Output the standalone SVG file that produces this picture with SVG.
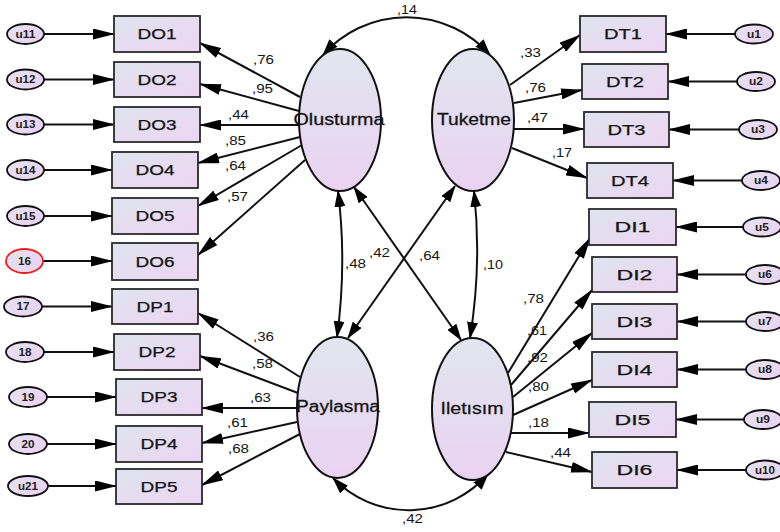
<svg xmlns="http://www.w3.org/2000/svg" width="780" height="532" viewBox="0 0 780 532">
<defs>
<style>
.box{fill:url(#gbox);stroke:#2a2a2a;stroke-width:1.8}
.lat{fill:url(#gell);stroke:#111;stroke-width:2}
.err{fill:url(#gu);stroke:#111;stroke-width:1.8}
.t{font-family:"Liberation Sans",Arial,sans-serif;fill:#151515}
.bl{font-size:14px;text-anchor:middle;stroke:#151515;stroke-width:0.25}
.ll{font-size:16px;text-anchor:middle;stroke:#151515;stroke-width:0.3}
.ul{font-size:10px;text-anchor:middle;font-weight:bold;fill:#222}
.cl{font-size:12px}
.c line,.c path{stroke:#111;stroke-width:2;fill:none}
.a{marker-end:url(#ah)}
.b{marker-start:url(#ah2);marker-end:url(#ah2)}
</style>
<linearGradient id="gbox" x1="0" y1="0" x2="1" y2="1"><stop offset="0" stop-color="#dfe4ee"/><stop offset="1" stop-color="#edd5f3"/></linearGradient>
<linearGradient id="gell" x1="0" y1="0" x2="0" y2="1"><stop offset="0" stop-color="#e1e6ee"/><stop offset="1" stop-color="#ead2f2"/></linearGradient>
<linearGradient id="gu" x1="0" y1="0" x2="1" y2="0.6"><stop offset="0" stop-color="#e4e4f0"/><stop offset="1" stop-color="#e9d3f1"/></linearGradient>
<marker id="ah" markerUnits="userSpaceOnUse" markerWidth="22" markerHeight="11" viewBox="0 0 22 11" refX="21" refY="5.5" orient="auto-start-reverse"><path d="M0,0 L22,5.5 L0,11 z" fill="#000"/></marker>
<marker id="ah2" markerUnits="userSpaceOnUse" markerWidth="17" markerHeight="11" viewBox="0 0 17 11" refX="16" refY="5.5" orient="auto-start-reverse"><path d="M0,0 L17,5.5 L0,11 z" fill="#000"/></marker>
</defs>
<rect width="780" height="532" fill="#fff"/>

<g id="connectors" class="c">
<line class="a" x1="44" y1="34" x2="114" y2="34"/>
<line class="a" x1="44" y1="79.5" x2="114" y2="79.5"/>
<line class="a" x1="44" y1="124.5" x2="114" y2="124.5"/>
<line class="a" x1="44" y1="170" x2="112" y2="170"/>
<line class="a" x1="44" y1="216" x2="112" y2="216"/>
<line class="a" x1="43" y1="261" x2="112" y2="261"/>
<line class="a" x1="42" y1="306.5" x2="112" y2="306.5"/>
<line class="a" x1="44" y1="352" x2="114" y2="352"/>
<line class="a" x1="47" y1="397" x2="116" y2="397"/>
<line class="a" x1="47" y1="444" x2="116" y2="444"/>
<line class="a" x1="48" y1="486" x2="116" y2="486"/>
<line class="a" x1="735" y1="34" x2="666" y2="34"/>
<line class="a" x1="737" y1="81.5" x2="668" y2="81.5"/>
<line class="a" x1="739" y1="129.5" x2="669" y2="129.5"/>
<line class="a" x1="742" y1="180.5" x2="673" y2="180.5"/>
<line class="a" x1="743" y1="227" x2="676" y2="227"/>
<line class="a" x1="746" y1="274.5" x2="677" y2="274.5"/>
<line class="a" x1="746" y1="321.5" x2="677" y2="321.5"/>
<line class="a" x1="746" y1="369.5" x2="677" y2="369.5"/>
<line class="a" x1="744" y1="419.5" x2="676" y2="419.5"/>
<line class="a" x1="746" y1="470" x2="677" y2="470"/>
<line class="a" x1="300" y1="97" x2="200" y2="43"/>
<line class="a" x1="299" y1="111" x2="200" y2="84"/>
<line class="a" x1="299" y1="125" x2="200" y2="125"/>
<line class="a" x1="300" y1="137" x2="198" y2="163"/>
<line class="a" x1="302" y1="145" x2="198" y2="206"/>
<line class="a" x1="305" y1="160" x2="198" y2="255"/>
<line class="a" x1="300" y1="377" x2="198" y2="313"/>
<line class="a" x1="298" y1="393" x2="200" y2="356"/>
<line class="a" x1="297" y1="408" x2="202" y2="408"/>
<line class="a" x1="297" y1="422" x2="202" y2="443"/>
<line class="a" x1="300" y1="434" x2="202" y2="485"/>
<line class="a" x1="510" y1="85" x2="580" y2="35"/>
<line class="a" x1="514" y1="103" x2="582" y2="90"/>
<line class="a" x1="514" y1="129" x2="584" y2="129"/>
<line class="a" x1="512" y1="148" x2="587" y2="178"/>
<line class="a" x1="508" y1="373" x2="590" y2="238"/>
<line class="a" x1="511" y1="385" x2="592" y2="290"/>
<line class="a" x1="513" y1="397" x2="592" y2="333"/>
<line class="a" x1="513" y1="415" x2="592" y2="380"/>
<line class="a" x1="511" y1="433" x2="589" y2="433"/>
<line class="a" x1="506" y1="452" x2="592" y2="472"/>
<path class="b" d="M323,55 A111,111 0 0 1 490,55"/>
<path class="b" d="M333,478 A105,105 0 0 0 488,474"/>
<path class="b" d="M338,191 Q347,263 337,337"/>
<path class="b" d="M474,191 Q482,264 470,338"/>
<path class="b" d="M455,186 L348,338"/>
<path class="b" d="M354,187 L461,340"/>
</g>

<g id="labels" class="t cl">
<text x="397" y="14" textLength="20" lengthAdjust="spacingAndGlyphs">,14</text>
<text x="253" y="64" textLength="21" lengthAdjust="spacingAndGlyphs">,76</text>
<text x="252" y="93" textLength="21" lengthAdjust="spacingAndGlyphs">,95</text>
<text x="228" y="119" textLength="21" lengthAdjust="spacingAndGlyphs">,44</text>
<text x="225" y="145" textLength="21" lengthAdjust="spacingAndGlyphs">,85</text>
<text x="225" y="170" textLength="21" lengthAdjust="spacingAndGlyphs">,64</text>
<text x="227" y="201" textLength="21" lengthAdjust="spacingAndGlyphs">,57</text>
<text x="345" y="268" textLength="21" lengthAdjust="spacingAndGlyphs">,48</text>
<text x="369" y="257" textLength="21" lengthAdjust="spacingAndGlyphs">,42</text>
<text x="419" y="260" textLength="21" lengthAdjust="spacingAndGlyphs">,64</text>
<text x="483" y="269" textLength="20" lengthAdjust="spacingAndGlyphs">,10</text>
<text x="253" y="341" textLength="21" lengthAdjust="spacingAndGlyphs">,36</text>
<text x="252" y="368" textLength="21" lengthAdjust="spacingAndGlyphs">,58</text>
<text x="250" y="402" textLength="21" lengthAdjust="spacingAndGlyphs">,63</text>
<text x="227" y="427" textLength="21" lengthAdjust="spacingAndGlyphs">,61</text>
<text x="228" y="453" textLength="21" lengthAdjust="spacingAndGlyphs">,68</text>
<text x="402" y="523" textLength="21" lengthAdjust="spacingAndGlyphs">,42</text>
<text x="520" y="57" textLength="21" lengthAdjust="spacingAndGlyphs">,33</text>
<text x="525" y="92" textLength="21" lengthAdjust="spacingAndGlyphs">,76</text>
<text x="527" y="122" textLength="21" lengthAdjust="spacingAndGlyphs">,47</text>
<text x="552" y="157" textLength="20" lengthAdjust="spacingAndGlyphs">,17</text>
<text x="523" y="303" textLength="21" lengthAdjust="spacingAndGlyphs">,78</text>
<text x="527" y="335" textLength="20" lengthAdjust="spacingAndGlyphs">,61</text>
<text x="527" y="362" textLength="21" lengthAdjust="spacingAndGlyphs">,92</text>
<text x="528" y="391" textLength="21" lengthAdjust="spacingAndGlyphs">,80</text>
<text x="528" y="427" textLength="21" lengthAdjust="spacingAndGlyphs">,18</text>
<text x="550" y="457" textLength="21" lengthAdjust="spacingAndGlyphs">,44</text>
</g>

<g id="Olusturma"><ellipse class="lat" cx="340" cy="120" rx="41" ry="71"/><text class="t ll" x="339" y="125" textLength="91" lengthAdjust="spacingAndGlyphs">Olusturma</text></g>
<g id="Tuketme"><ellipse class="lat" cx="473" cy="120" rx="41" ry="71"/><text class="t ll" x="474" y="125" textLength="74" lengthAdjust="spacingAndGlyphs">Tuketme</text></g>
<g id="Paylasma"><ellipse class="lat" cx="337.5" cy="407.5" rx="40.5" ry="70.5"/><text class="t ll" x="338" y="412" textLength="84" lengthAdjust="spacingAndGlyphs">Paylasma</text></g>
<g id="Iletisim"><ellipse class="lat" cx="472.5" cy="409" rx="40.5" ry="71"/><text class="t ll" x="472" y="414" textLength="63" lengthAdjust="spacingAndGlyphs">Iletısım</text></g>

<g id="DO1"><rect class="box" x="114" y="16" width="86" height="36"/><text class="t bl" x="157" y="39" textLength="39" lengthAdjust="spacingAndGlyphs">DO1</text></g>
<g id="DO2"><rect class="box" x="114" y="62" width="86" height="35"/><text class="t bl" x="157" y="84.5" textLength="39" lengthAdjust="spacingAndGlyphs">DO2</text></g>
<g id="DO3"><rect class="box" x="114" y="107" width="86" height="35"/><text class="t bl" x="157" y="129.5" textLength="39" lengthAdjust="spacingAndGlyphs">DO3</text></g>
<g id="DO4"><rect class="box" x="112" y="152" width="86" height="36"/><text class="t bl" x="155" y="175" textLength="39" lengthAdjust="spacingAndGlyphs">DO4</text></g>
<g id="DO5"><rect class="box" x="112" y="198" width="86" height="36"/><text class="t bl" x="155" y="221" textLength="39" lengthAdjust="spacingAndGlyphs">DO5</text></g>
<g id="DO6"><rect class="box" x="112" y="243" width="86" height="37"/><text class="t bl" x="155" y="266.5" textLength="39" lengthAdjust="spacingAndGlyphs">DO6</text></g>
<g id="DP1"><rect class="box" x="112" y="289" width="86" height="35"/><text class="t bl" x="155" y="311.5" textLength="37" lengthAdjust="spacingAndGlyphs">DP1</text></g>
<g id="DP2"><rect class="box" x="114" y="334" width="86" height="36"/><text class="t bl" x="157" y="357" textLength="37" lengthAdjust="spacingAndGlyphs">DP2</text></g>
<g id="DP3"><rect class="box" x="116" y="379" width="86" height="36"/><text class="t bl" x="159" y="402" textLength="37" lengthAdjust="spacingAndGlyphs">DP3</text></g>
<g id="DP4"><rect class="box" x="116" y="426" width="86" height="36"/><text class="t bl" x="159" y="449" textLength="37" lengthAdjust="spacingAndGlyphs">DP4</text></g>
<g id="DP5"><rect class="box" x="116" y="469" width="86" height="35"/><text class="t bl" x="159" y="491.5" textLength="37" lengthAdjust="spacingAndGlyphs">DP5</text></g>

<g id="DT1"><rect class="box" x="580" y="16" width="86" height="36"/><text class="t bl" x="623" y="39" textLength="38" lengthAdjust="spacingAndGlyphs">DT1</text></g>
<g id="DT2"><rect class="box" x="582" y="64" width="86" height="35"/><text class="t bl" x="625" y="86.5" textLength="38" lengthAdjust="spacingAndGlyphs">DT2</text></g>
<g id="DT3"><rect class="box" x="584" y="112" width="85" height="35"/><text class="t bl" x="626.5" y="134.5" textLength="38" lengthAdjust="spacingAndGlyphs">DT3</text></g>
<g id="DT4"><rect class="box" x="587" y="163" width="86" height="35"/><text class="t bl" x="630" y="185.5" textLength="38" lengthAdjust="spacingAndGlyphs">DT4</text></g>
<g id="DI1"><rect class="box" x="589" y="209" width="87" height="36"/><text class="t bl" x="632.5" y="232" textLength="36" lengthAdjust="spacingAndGlyphs">DI1</text></g>
<g id="DI2"><rect class="box" x="592" y="257" width="85" height="35"/><text class="t bl" x="634.5" y="279.5" textLength="36" lengthAdjust="spacingAndGlyphs">DI2</text></g>
<g id="DI3"><rect class="box" x="592" y="304" width="85" height="35"/><text class="t bl" x="634.5" y="326.5" textLength="36" lengthAdjust="spacingAndGlyphs">DI3</text></g>
<g id="DI4"><rect class="box" x="592" y="352" width="85" height="35"/><text class="t bl" x="634.5" y="374.5" textLength="36" lengthAdjust="spacingAndGlyphs">DI4</text></g>
<g id="DI5"><rect class="box" x="589" y="402" width="87" height="35"/><text class="t bl" x="632.5" y="424.5" textLength="36" lengthAdjust="spacingAndGlyphs">DI5</text></g>
<g id="DI6"><rect class="box" x="592" y="452" width="85" height="36"/><text class="t bl" x="634.5" y="475" textLength="36" lengthAdjust="spacingAndGlyphs">DI6</text></g>

<g id="u11"><ellipse class="err" cx="25.5" cy="34" rx="18.5" ry="10"/><text class="t ul" x="25.5" y="37.5" textLength="20" lengthAdjust="spacingAndGlyphs">u11</text></g>
<g id="u12"><ellipse class="err" cx="25.5" cy="79.5" rx="18.5" ry="10"/><text class="t ul" x="25.5" y="83" textLength="20" lengthAdjust="spacingAndGlyphs">u12</text></g>
<g id="u13"><ellipse class="err" cx="25.5" cy="124.5" rx="18.5" ry="10"/><text class="t ul" x="25.5" y="128" textLength="20" lengthAdjust="spacingAndGlyphs">u13</text></g>
<g id="u14"><ellipse class="err" cx="25.5" cy="170" rx="18.5" ry="10"/><text class="t ul" x="25.5" y="173.5" textLength="20" lengthAdjust="spacingAndGlyphs">u14</text></g>
<g id="u15"><ellipse class="err" cx="25.5" cy="216" rx="18.5" ry="10"/><text class="t ul" x="25.5" y="219.5" textLength="20" lengthAdjust="spacingAndGlyphs">u15</text></g>
<g id="e16"><ellipse class="err" cx="24.5" cy="261" rx="18.5" ry="12" style="stroke:#e8231f"/><text class="t ul" x="24.5" y="264.5" textLength="13" lengthAdjust="spacingAndGlyphs">16</text></g>
<g id="e17"><ellipse class="err" cx="23" cy="306.5" rx="19" ry="10"/><text class="t ul" x="23" y="310" textLength="13" lengthAdjust="spacingAndGlyphs">17</text></g>
<g id="e18"><ellipse class="err" cx="25" cy="352" rx="19" ry="10"/><text class="t ul" x="25" y="355.5" textLength="13" lengthAdjust="spacingAndGlyphs">18</text></g>
<g id="e19"><ellipse class="err" cx="28" cy="397" rx="19" ry="10"/><text class="t ul" x="28" y="400.5" textLength="13" lengthAdjust="spacingAndGlyphs">19</text></g>
<g id="e20"><ellipse class="err" cx="28" cy="444" rx="19" ry="10"/><text class="t ul" x="28" y="447.5" textLength="13" lengthAdjust="spacingAndGlyphs">20</text></g>
<g id="u21"><ellipse class="err" cx="28" cy="486" rx="20" ry="10"/><text class="t ul" x="28" y="489.5" textLength="20" lengthAdjust="spacingAndGlyphs">u21</text></g>

<g id="u1"><ellipse class="err" cx="754" cy="34" rx="19" ry="9.5"/><text class="t ul" x="754" y="37.5" textLength="14" lengthAdjust="spacingAndGlyphs">u1</text></g>
<g id="u2"><ellipse class="err" cx="756" cy="81.5" rx="19" ry="9.5"/><text class="t ul" x="756" y="85" textLength="14" lengthAdjust="spacingAndGlyphs">u2</text></g>
<g id="u3"><ellipse class="err" cx="758" cy="129.5" rx="19" ry="9.5"/><text class="t ul" x="758" y="133" textLength="14" lengthAdjust="spacingAndGlyphs">u3</text></g>
<g id="u4"><ellipse class="err" cx="761" cy="180.5" rx="19" ry="9.5"/><text class="t ul" x="761" y="184" textLength="14" lengthAdjust="spacingAndGlyphs">u4</text></g>
<g id="u5"><ellipse class="err" cx="762" cy="227" rx="19" ry="9.5"/><text class="t ul" x="762" y="230.5" textLength="14" lengthAdjust="spacingAndGlyphs">u5</text></g>
<g id="u6"><ellipse class="err" cx="765" cy="274.5" rx="19" ry="9.5"/><text class="t ul" x="765" y="278" textLength="14" lengthAdjust="spacingAndGlyphs">u6</text></g>
<g id="u7"><ellipse class="err" cx="765" cy="321.5" rx="19" ry="9.5"/><text class="t ul" x="765" y="325" textLength="14" lengthAdjust="spacingAndGlyphs">u7</text></g>
<g id="u8"><ellipse class="err" cx="765" cy="369.5" rx="19" ry="9.5"/><text class="t ul" x="765" y="373" textLength="14" lengthAdjust="spacingAndGlyphs">u8</text></g>
<g id="u9"><ellipse class="err" cx="763" cy="419.5" rx="19" ry="9.5"/><text class="t ul" x="763" y="423" textLength="14" lengthAdjust="spacingAndGlyphs">u9</text></g>
<g id="u10"><ellipse class="err" cx="765" cy="470" rx="19" ry="9.5"/><text class="t ul" x="765" y="473.5" textLength="20" lengthAdjust="spacingAndGlyphs">u10</text></g>
</svg>
